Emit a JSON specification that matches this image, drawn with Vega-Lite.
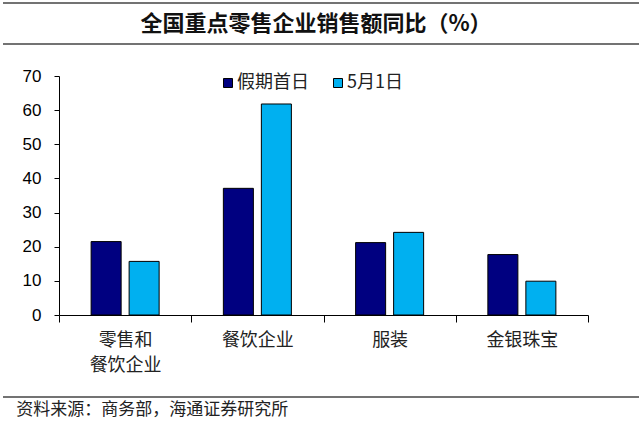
{
  "$schema": "https://vega.github.io/schema/vega-lite/v6.json",
  "padding": 2,
  "background": "white",
  "config": {"view": {"stroke": null}},
  "title": {"text": "资料来源：商务部，海通证券研究所", "orient": "bottom", "anchor": "start", "font": "Noto Sans CJK SC", "fontSize": 17, "fontWeight": "normal", "color": "#222", "dx": 14, "offset": 4},
  "spacing": 22,
  "resolve": {"scale": {"color": "independent", "y": "independent", "x": "independent"}, "legend": {"color": "independent"}},
  "vconcat": [
    {
      "width": 636,
      "height": 41,
      "layer": [
        {
          "data": {"values": [{"edge": 0}, {"edge": 1}]},
          "mark": {"type": "rule", "color": "#444", "strokeWidth": 1.5},
          "encoding": {"y": {"field": "edge", "type": "quantitative", "scale": {"domain": [0, 1]}, "axis": null}}
        },
        {
          "data": {"values": [{"t": "全国重点零售企业销售额同比（%）"}]},
          "mark": {"type": "text", "font": "Noto Sans CJK SC", "fontSize": 22, "fontWeight": "bold", "color": "#111", "dx": -5},
          "encoding": {"text": {"field": "t", "type": "nominal"}}
        }
      ]
    },
    {
      "width": 585,
      "height": 239,
      "data": {"values": [
        {"cat": "零售和餐饮企业", "series": "假期首日", "value": 21.5},
        {"cat": "零售和餐饮企业", "series": "5月1日", "value": 15.7},
        {"cat": "餐饮企业", "series": "假期首日", "value": 37.1},
        {"cat": "餐饮企业", "series": "5月1日", "value": 61.8},
        {"cat": "服装", "series": "假期首日", "value": 21.2},
        {"cat": "服装", "series": "5月1日", "value": 24.2},
        {"cat": "金银珠宝", "series": "假期首日", "value": 17.7},
        {"cat": "金银珠宝", "series": "5月1日", "value": 9.9}
      ]},
      "mark": {"type": "bar", "stroke": "black", "strokeWidth": 1},
      "encoding": {
        "x": {
          "field": "cat", "type": "nominal", "sort": null,
          "scale": {"paddingInner": 0, "paddingOuter": 0, "range": [56, 585]},
          "axis": {
            "title": null, "labelAngle": 0, "labelFont": "Noto Sans CJK SC", "labelFontSize": 18, "labelColor": "#222",
            "labelPadding": 9, "labelLineHeight": 25, "tickSize": 7, "tickBand": "extent", "tickColor": "black", "domainColor": "black",
            "labelExpr": "datum.label == '零售和餐饮企业' ? ['零售和', '餐饮企业'] : datum.label"
          }
        },
        "xOffset": {"field": "series", "type": "nominal", "sort": ["假期首日", "5月1日"], "scale": {"paddingInner": 0.21, "paddingOuter": 0.845}},
        "y": {
          "field": "value", "type": "quantitative",
          "scale": {"domain": [0, 70], "nice": false},
          "axis": {
            "title": null, "grid": false, "values": [0, 10, 20, 30, 40, 50, 60, 70], "labelFont": "Liberation Sans", "labelFontSize": 17,
            "labelColor": "black", "labelPadding": 13, "tickSize": 5, "tickColor": "black", "domainColor": "black", "offset": -56
          }
        },
        "color": {
          "field": "series", "type": "nominal",
          "scale": {"domain": ["假期首日", "5月1日"], "range": ["#000080", "#00B0F0"]},
          "legend": {
            "title": null, "orient": "none", "direction": "horizontal", "legendX": 216, "legendY": -2, "padding": 0,
            "symbolType": "square", "symbolSize": 81, "symbolStrokeColor": "black", "symbolStrokeWidth": 1,
            "labelFont": "Noto Sans CJK SC", "labelFontSize": 18, "labelColor": "#222", "labelOffset": 0, "columnPadding": 20
          }
        }
      }
    },
    {
      "width": 636,
      "height": 1,
      "data": {"values": [{"edge": 1}]},
      "mark": {"type": "rule", "color": "#444", "strokeWidth": 1.5},
      "encoding": {"y": {"field": "edge", "type": "quantitative", "scale": {"domain": [0, 1]}, "axis": null}}
    }
  ]
}
